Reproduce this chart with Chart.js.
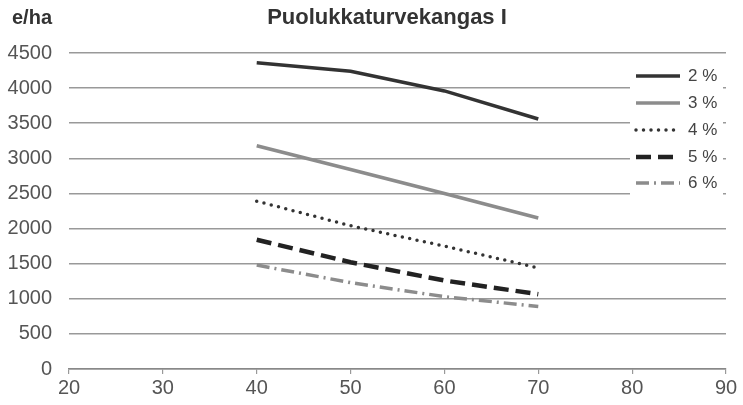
<!DOCTYPE html>
<html>
<head>
<meta charset="utf-8">
<script src="https://cdn.jsdelivr.net/npm/chart.js@4/dist/chart.umd.min.js"></script>
<style>
  html, body { margin: 0; padding: 0; background: #fff; }
  #wrap { width: 743px; height: 405px; }
</style>
</head>
<body>
<div id="wrap"><canvas id="myChart" width="743" height="405"></canvas></div>
<script>
'use strict';
// values
const ages = [40, 50, 60, 70];
const seriesNames = ['2 %', '3 %', '4 %', '5 %', '6 %'];
const rate2 = [4360, 4240, 3960, 3560];
const rate3 = [3180, 2840, 2500, 2150];
const rate4 = [2390, 2040, 1750, 1440];
const rate5 = [1840, 1520, 1260, 1065];
const rate6 = [1480, 1230, 1030, 890];
const xTicks = [20, 30, 40, 50, 60, 70, 80, 90];
const yTicks = [0, 500, 1000, 1500, 2000, 2500, 3000, 3500, 4000, 4500];

const chartTitle = 'Puolukkaturvekangas I';
const yUnit = 'e/ha';
const FONT = '"Liberation Sans", Arial, sans-serif';

function points(vals) {
  let out = [];
  for (let i = 0; i < ages.length; i++) {
    out.push({ x: ages[i], y: vals[i] });
  }
  return out;
}

function makeSet(label, vals, color, width, dash, cap) {
  return {
    label: label,
    data: points(vals),
    borderColor: color,
    backgroundColor: color,
    borderWidth: width,
    borderDash: dash,
    borderCapStyle: cap || 'butt',
    pointRadius: 0,
    tension: 0,
    fill: false
  };
}

// title, unit label and the legend box inside the plot
const extrasPlugin = {
  id: 'extras',
  afterDraw(chart) {
    const ctx = chart.ctx;
    ctx.save();
    ctx.fillStyle = '#333';
    ctx.font = 'bold 22px ' + FONT;
    ctx.textAlign = 'center';
    ctx.textBaseline = 'middle';
    ctx.fillText(chartTitle, 387, 18);

    ctx.font = 'bold 20px ' + FONT;
    ctx.textAlign = 'left';
    ctx.fillText(yUnit, 12, 18);

    // legend
    ctx.fillStyle = '#fff';
    ctx.fillRect(630, 62, 93, 136);
    const rowY = [76, 103, 130, 157, 183];
    chart.data.datasets.forEach(function (ds, i) {
      ctx.save();
      ctx.strokeStyle = ds.borderColor;
      ctx.lineWidth = ds.borderWidth;
      ctx.lineCap = ds.borderCapStyle;
      ctx.setLineDash(ds.borderDash);
      ctx.beginPath();
      ctx.moveTo(636, rowY[i]);
      ctx.lineTo(680, rowY[i]);
      ctx.stroke();
      ctx.restore();
      ctx.fillStyle = '#444';
      ctx.font = '17px ' + FONT;
      ctx.textAlign = 'left';
      ctx.textBaseline = 'middle';
      ctx.fillText(ds.label, 688, rowY[i]);
    });
    ctx.restore();
  }
};

const ctx = document.getElementById('myChart').getContext('2d');

let config = {
  type: 'line',
  data: {
    datasets: [
      makeSet(seriesNames[0], rate2, '#333333', 3.5, []),
      makeSet(seriesNames[1], rate3, '#8c8c8c', 3.5, []),
      makeSet(seriesNames[2], rate4, '#333333', 3.5, [0, 7.5], 'round'),
      makeSet(seriesNames[3], rate5, '#222222', 4.5, [15, 7]),
      makeSet(seriesNames[4], rate6, '#8c8c8c', 3.5, [13, 5, 2, 5])
    ]
  },
  options: {
    responsive: false,
    animation: false,
    layout: { padding: { top: 53, right: 17, left: 0, bottom: 0 } },
    plugins: {
      legend: { display: false },
      title: { display: false },
      tooltip: { enabled: false }
    },
    scales: {
      x: {
        type: 'linear',
        min: xTicks[0],
        max: xTicks[xTicks.length - 1],
        afterBuildTicks(scale) {
          scale.ticks = xTicks.map(v => ({ value: v }));
        },
        afterFit(scale) { scale.height = 36; },
        ticks: {
          color: '#555', font: { family: FONT, size: 20 }, padding: 2, maxRotation: 0,
          callback: v => String(v)
        },
        grid: { drawOnChartArea: false, drawTicks: true, tickLength: 5, color: '#999', lineWidth: 1.2 },
        border: { display: true, color: '#888', width: 1.5 }
      },
      y: {
        min: yTicks[0],
        max: yTicks[yTicks.length - 1],
        afterBuildTicks(scale) {
          scale.ticks = yTicks.map(v => ({ value: v }));
        },
        afterFit(scale) { scale.width = 69; },
        ticks: {
          color: '#555', font: { family: FONT, size: 20 }, padding: 17,
          callback: v => String(v)
        },
        grid: { drawTicks: false, color: '#999', lineWidth: 1.5 },
        border: { display: false }
      }
    }
  },
  plugins: [extrasPlugin]
};

const myChart = new Chart(ctx, config);
</script>
</body>
</html>
